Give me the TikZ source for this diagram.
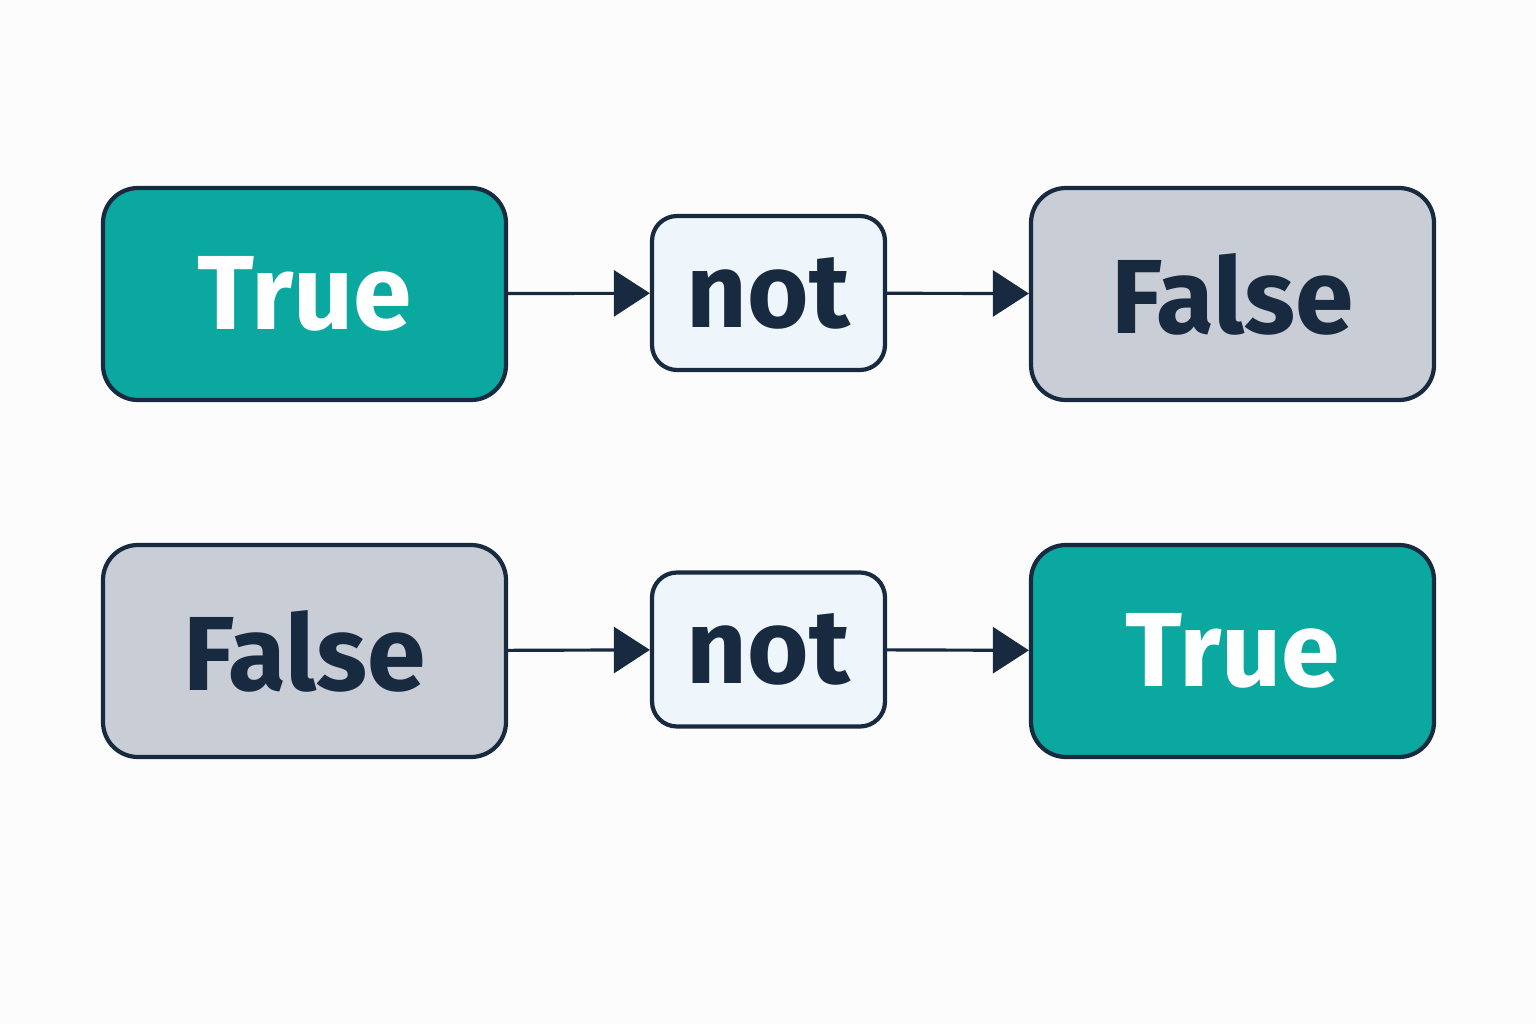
\documentclass[tikz,border=0pt]{standalone}
\usepackage{fontspec}
\setmainfont{Fira Sans}
\usetikzlibrary{arrows.meta,positioning}
\definecolor{teal}{HTML}{0AA89E}
\definecolor{grayb}{HTML}{C9CED6}
\definecolor{lightb}{HTML}{EEF6FC}
\definecolor{ink}{HTML}{172A40}
\begin{document}
\begin{tikzpicture}[
      box/.style={draw=ink, line width=1.2pt, rounded corners=0.35cm,
        minimum width=4.03cm, minimum height=2.12cm,
        font=\fontsize{30}{36}\selectfont\bfseries},
      truebox/.style={box, fill=teal, text=white},
      falsebox/.style={box, fill=grayb, text=ink},
      notbox/.style={box, fill=lightb, text=ink, rounded corners=0.25cm,
        minimum width=2.33cm, minimum height=1.54cm},
      arr/.style={draw=ink, line width=0.9pt, -{Triangle[length=0.36cm,width=0.46cm]}}]
    \fill[white!98!gray] (0,0) rectangle (15.36,10.24);
    % first row
    \node (T1) [truebox] at (3.045,7.30) {True};
    \node (N1) [notbox] at (7.685,7.31) {not};
    \node (F1) [falsebox] at (12.325,7.30) {False};
    % second row
    \node (F2) [falsebox] at (3.045,3.73) {False};
    \node (N2) [notbox] at (7.685,3.745) {not};
    \node (T2) [truebox] at (12.325,3.73) {True};
    \draw[arr] (T1) -- (N1);
    \draw[arr] (N1) -- (F1);
    \draw[arr] (F2) -- (N2);
    \draw[arr] (N2) -- (T2);
  \end{tikzpicture}
\end{document}
